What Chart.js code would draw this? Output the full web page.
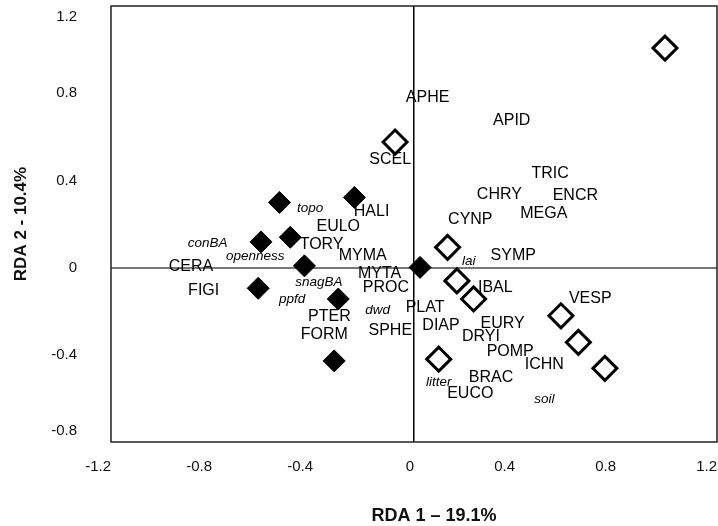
<!DOCTYPE html>
<html>
<head>
<meta charset="utf-8">
<script src="https://cdn.jsdelivr.net/npm/chart.js@4.4.1/dist/chart.umd.min.js"></script>
<style>
  html, body { margin: 0; padding: 0; background: #fff; }
</style>
</head>
<body>
<canvas id="rda" width="718" height="526"></canvas>
<script>
const xTicks = [-1.2, -0.8, -0.4, 0, 0.4, 0.8, 1.2];
const yTicks = [-0.8, -0.4, 0, 0.4, 0.8, 1.2];

// sites, filled diamonds
const filledX = [-0.533, -0.236, -0.606, -0.490, -0.434, -0.617, -0.300, -0.316, 0.024];
const filledY = [0.299, 0.322, 0.118, 0.139, 0.008, -0.095, -0.144, -0.428, 0.001];

// sites, open diamonds
const openX = [-0.075, 0.133, 0.170, 0.236, 0.582, 0.651, 0.756, 0.098, 0.994];
const openY = [0.576, 0.093, -0.061, -0.144, -0.221, -0.343, -0.462, -0.420, 1.007];

// taxa scores
const taxa = ['SCEL', 'HALI', 'EULO', 'TORY', 'MYMA', 'CERA', 'MYTA', 'FIGI', 'PROC', 'PLAT',
  'PTER', 'FORM', 'SPHE', 'APHE', 'APID', 'TRIC', 'CHRY', 'ENCR', 'MEGA', 'CYNP',
  'SYMP', 'IBAL', 'VESP', 'DIAP', 'EURY', 'DRYI', 'POMP', 'ICHN', 'BRAC', 'EUCO'];
const taxaX = [-0.094, -0.168, -0.300, -0.366, -0.203, -0.883, -0.136, -0.833, -0.111, 0.044,
  -0.335, -0.355, -0.094, 0.054, 0.387, 0.539, 0.338, 0.639, 0.514, 0.223,
  0.393, 0.322, 0.698, 0.107, 0.351, 0.265, 0.381, 0.516, 0.305, 0.223];
const taxaY = [0.494, 0.256, 0.187, 0.105, 0.057, 0.004, -0.027, -0.106, -0.094, -0.183,
  -0.224, -0.306, -0.290, 0.778, 0.673, 0.429, 0.337, 0.329, 0.250, 0.219,
  0.054, -0.094, -0.141, -0.267, -0.255, -0.316, -0.386, -0.447, -0.504, -0.580];

// environmental variables
const envVars = ['topo', 'conBA', 'openness', 'snagBA', 'ppfd', 'dwd', 'lai', 'litter', 'soil'];
const envX = [-0.411, -0.817, -0.629, -0.377, -0.483, -0.144, 0.217, 0.098, 0.516];
const envY = [0.272, 0.111, 0.054, -0.068, -0.146, -0.194, 0.031, -0.524, -0.603];

const FONT = '"Liberation Sans", Arial, sans-serif';
Chart.defaults.font.family = FONT;

const rdaText = {
  id: 'rdaText',
  beforeDatasetsDraw(chart) {
    const {ctx, chartArea: a, scales: {x, y}} = chart;
    ctx.save();
    ctx.strokeStyle = '#222';
    ctx.lineWidth = 1.5;
    ctx.strokeRect(a.left, a.top, a.right - a.left, a.bottom - a.top);

    ctx.fillStyle = '#000';
    ctx.textAlign = 'center';
    ctx.textBaseline = 'middle';
    ctx.font = '16px ' + FONT;
    taxa.forEach((t, i) => {
      ctx.fillText(t, x.getPixelForValue(taxaX[i]), y.getPixelForValue(taxaY[i]));
    });
    ctx.font = 'italic 13.5px ' + FONT;
    envVars.forEach((t, i) => {
      ctx.fillText(t, x.getPixelForValue(envX[i]), y.getPixelForValue(envY[i]));
    });

    // y tick labels, end ones kept inside the frame
    ctx.font = '15px ' + FONT;
    ctx.fillStyle = '#111';
    ctx.textAlign = 'right';
    yTicks.forEach(v => {
      let py = y.getPixelForValue(v);
      py = Math.min(Math.max(py, a.top + 11), a.bottom - 11);
      ctx.fillText(String(v), a.left - 34, py);
    });

    // x axis title, sits a bit right of centre in the original
    ctx.font = 'bold 18px ' + FONT;
    ctx.textAlign = 'center';
    ctx.fillText('RDA 1 – 19.1%', (a.left + a.right) / 2 + 20, chart.height - 10);
    ctx.restore();
  }
};

new Chart(document.getElementById('rda'), {
  type: 'scatter',
  data: {
    datasets: [{
      data: filledX.map((v, i) => ({x: v, y: filledY[i]})),
      pointStyle: 'rectRot',
      pointRadius: 11,
      backgroundColor: '#000',
      borderColor: '#000',
      borderWidth: 1
    }, {
      data: openX.map((v, i) => ({x: v, y: openY[i]})),
      pointStyle: 'rectRot',
      pointRadius: 12,
      backgroundColor: '#fff',
      borderColor: '#000',
      borderWidth: 3
    }]
  },
  plugins: [rdaText],
  options: {
    responsive: false,
    animation: false,
    events: [],
    layout: { autoPadding: false, padding: { left: 0, right: 1, top: 6, bottom: 0 } },
    plugins: {
      legend: { display: false },
      tooltip: { enabled: false }
    },
    scales: {
      x: {
        type: 'linear',
        min: -1.2,
        max: 1.2,
        afterBuildTicks: s => { s.ticks = xTicks.map(v => ({value: v})); },
        afterFit: s => { s.height = 84; s.paddingLeft = 0; s.paddingRight = 0; },
        border: { display: false },
        grid: {
          drawTicks: false,
          lineWidth: 1.5,
          color: c => (c.tick && c.tick.value === 0) ? '#000' : 'rgba(0,0,0,0)'
        },
        ticks: {
          align: 'end',
          padding: 16,
          color: '#111',
          font: { size: 15 },
          callback: v => String(v)
        },
        title: { display: false }
      },
      y: {
        type: 'linear',
        min: -0.8,
        max: 1.2,
        afterBuildTicks: s => { s.ticks = yTicks.map(v => ({value: v})); },
        afterFit: s => { s.width = 111; s.paddingTop = 0; s.paddingBottom = 0; },
        border: { display: false },
        grid: {
          drawTicks: false,
          lineWidth: 2,
          color: c => (c.tick && c.tick.value === 0) ? '#777' : 'rgba(0,0,0,0)'
        },
        ticks: { display: false },
        title: {
          display: true,
          text: 'RDA 2 - 10.4%',
          color: '#111',
          font: { size: 17, weight: 'bold' },
          padding: { top: 11, bottom: 0 }
        }
      }
    }
  }
});
</script>
</body>
</html>
